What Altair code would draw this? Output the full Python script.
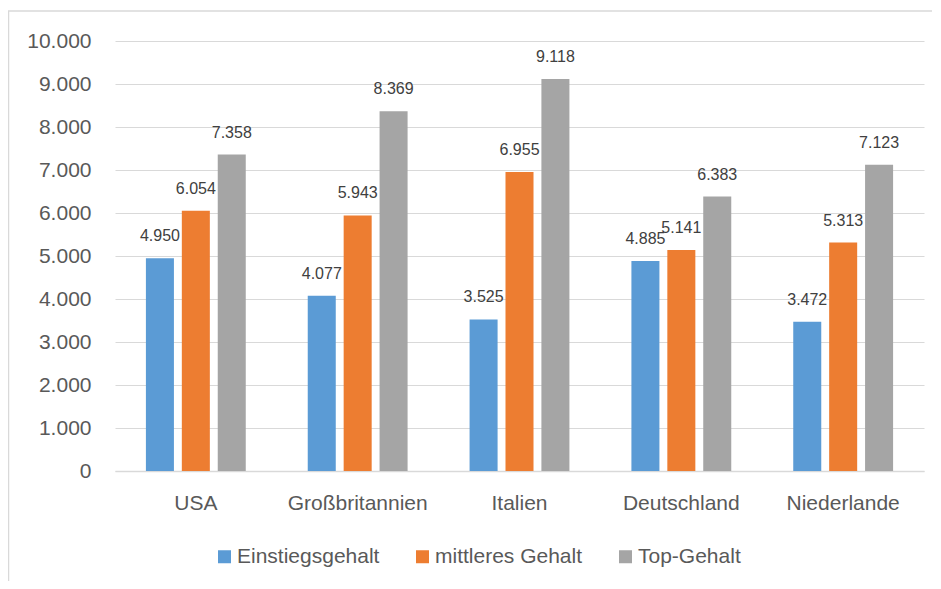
import altair as alt
import pandas as pd

countries = ["USA", "Großbritannien", "Italien", "Deutschland", "Niederlande"]
series = ["Einstiegsgehalt", "mittleres Gehalt", "Top-Gehalt"]
einstieg = [4950, 4077, 3525, 4885, 3472]
mittel = [6054, 5943, 6955, 5141, 5313]
top = [7358, 8369, 9118, 6383, 7123]
colors = ["#5B9BD5", "#ED7D31", "#A5A5A5"]
y_ticks = list(range(0, 10001, 1000))

rows = []
for i, c in enumerate(countries):
    for s, vals in zip(series, [einstieg, mittel, top]):
        rows.append({"Land": c, "Serie": s, "Wert": vals[i]})
df = pd.DataFrame(rows)

FONT = "Liberation Sans"
TXT = "#595959"
GRID = "#D9D9D9"

W, H = 809, 430

x_enc = alt.X("Land:N", sort=countries,
              scale=alt.Scale(paddingInner=0.383, paddingOuter=0.191),
              axis=alt.Axis(title=None, labelAngle=0, ticks=False, domainColor=GRID,
                            domainWidth=1.5, labelFontSize=21, labelColor=TXT,
                            labelFont=FONT, labelPadding=21, grid=False))
xo_enc = alt.XOffset("Serie:N", sort=series,
                     scale=alt.Scale(paddingInner=0.22, paddingOuter=0))

base = alt.Chart(df)

bars = base.mark_bar().encode(
    x=x_enc,
    xOffset=xo_enc,
    y=alt.Y("Wert:Q", scale=alt.Scale(domain=[0, 10000]),
            axis=alt.Axis(title=None, values=y_ticks, ticks=False, domain=False,
                          gridColor=GRID, gridWidth=1, labelFontSize=21,
                          labelColor=TXT, labelFont=FONT, labelPadding=24,
                          labelExpr="replace(format(datum.value, ','), ',', '.')")),
    color=alt.Color("Serie:N", sort=series,
                    scale=alt.Scale(domain=series, range=colors),
                    legend=alt.Legend(title=None, orient="none", direction="horizontal",
                                      legendX=99, legendY=505, symbolType="square",
                                      symbolSize=169, symbolStrokeWidth=0,
                                      labelFontSize=21, labelColor=TXT, labelFont=FONT,
                                      labelOffset=2, columnPadding=32)),
)

labels = base.mark_text(fontSize=16, font=FONT, color="#404040", dy=-17,
                        baseline="alphabetic").encode(
    x=alt.X("Land:N", sort=countries),
    xOffset=alt.XOffset("Serie:N", sort=series),
    y=alt.Y("Wert:Q"),
    text=alt.Text("label:N"),
).transform_calculate(label="replace(format(datum.Wert, ','), ',', '.')")

frame_data = alt.Data(values=[{"a": 1}])
left_border = alt.Chart(frame_data).mark_rule(color=GRID, strokeWidth=1.5).encode(
    x=alt.value(-106.5), y=alt.value(-30), y2=alt.value(580))
top_border = alt.Chart(frame_data).mark_rule(color=GRID, strokeWidth=1.5).encode(
    x=alt.value(-107), x2=alt.value(830), y=alt.value(-30))

chart = alt.layer(bars, labels, left_border, top_border).properties(
    width=W, height=H,
    autosize=alt.AutoSizeParams(type="none"),
    padding={"left": 107, "top": 33, "right": 8, "bottom": 110},
    background="white",
).configure_view(stroke=None)

chart.save("out.html", embed_options={"renderer": "svg", "actions": False})
